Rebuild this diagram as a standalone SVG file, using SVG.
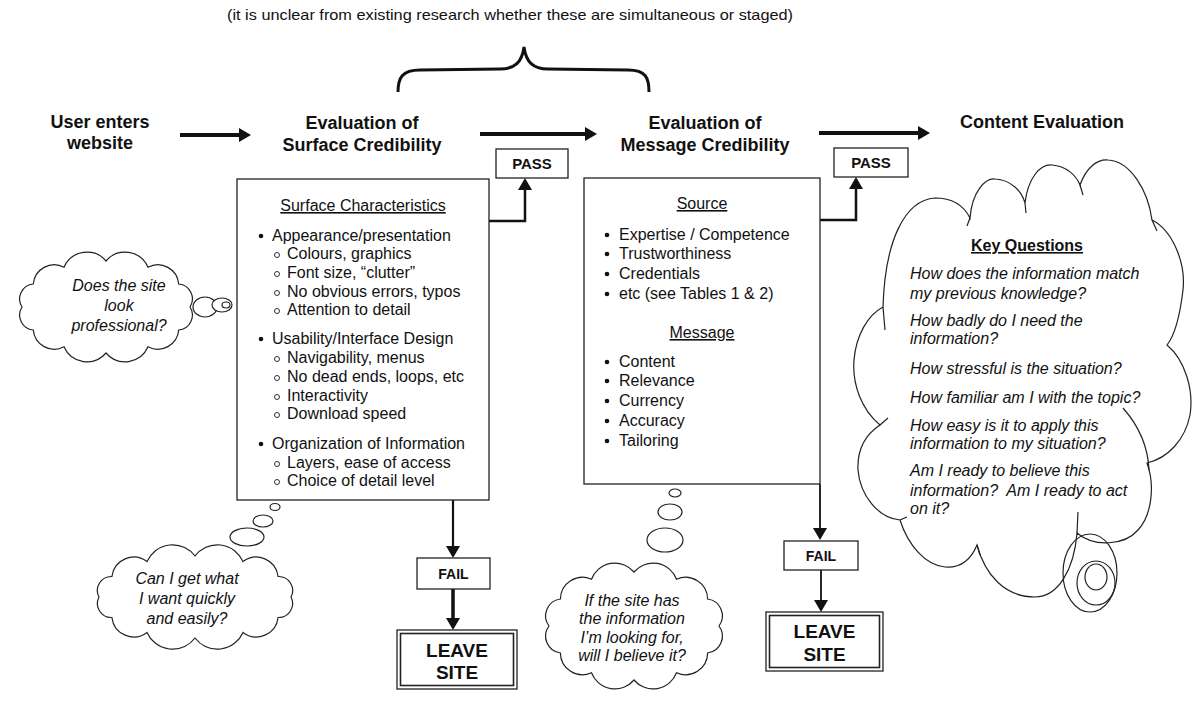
<svg xmlns="http://www.w3.org/2000/svg" width="1200" height="706" viewBox="0 0 1200 706">
<style>
text{font-family:"Liberation Sans",Arial,sans-serif;fill:#111}
.h{font-size:18px;font-weight:bold;text-anchor:middle}
.b{font-size:16px}
.c{text-anchor:middle}
.u{text-decoration:underline}
.i{font-size:16px;font-style:italic}
.lbl{font-size:15px;font-weight:bold;text-anchor:middle}
.big{font-size:19px;font-weight:bold;text-anchor:middle}
.box{fill:#fff;stroke:#222;stroke-width:1.3}
.cloud{fill:#fff;stroke:#222;stroke-width:1.2}
.hook{fill:none;stroke:#222;stroke-width:1.2}
.sub{fill:none;stroke:#333;stroke-width:1}
.dot{fill:#111}
.conn{fill:none;stroke:#111}
</style>
<defs>
<marker id="ah" viewBox="0 0 12 14" refX="4" refY="7" markerWidth="12" markerHeight="14" orient="auto" markerUnits="userSpaceOnUse">
<path d="M0,0 L12,7 L0,14 Z" fill="#111"/>
</marker>
</defs>
<rect width="1200" height="706" fill="#fff"/>

<g id="note">
<text x="510" y="20" style="font-size:15px" text-anchor="middle" textLength="566" lengthAdjust="spacingAndGlyphs">(it is unclear from existing research whether these are simultaneous or staged)</text>
<path class="conn" stroke-width="3" d="M398,92 C398,78 402,70 420,70 L500,69 C515,69 522,62 524,47 C526,62 533,69 548,69 L628,70 C646,70 649,78 649,92"/>
</g>

<g id="node-user">
<text class="h" x="100" y="128">User enters</text>
<text class="h" x="100" y="149">website</text>
</g>
<g id="node-surface-heading">
<text class="h" x="362" y="129">Evaluation of</text>
<text class="h" x="362" y="151">Surface Credibility</text>
</g>
<g id="node-message-heading">
<text class="h" x="705" y="129">Evaluation of</text>
<text class="h" x="705" y="151">Message Credibility</text>
</g>
<g id="node-content-heading">
<text class="h" x="1042" y="128">Content Evaluation</text>
</g>

<g id="connectors">
<line class="conn" stroke-width="4" x1="180" y1="135" x2="243" y2="135" marker-end="url(#ah)"/>
<line class="conn" stroke-width="4" x1="480" y1="134" x2="589" y2="134" marker-end="url(#ah)"/>
<line class="conn" stroke-width="4" x1="819" y1="133" x2="922" y2="133" marker-end="url(#ah)"/>
<polyline class="conn" stroke-width="2.5" points="489,221 525,221 525,186" marker-end="url(#ah)"/>
<polyline class="conn" stroke-width="2.5" points="820,220 856,220 856,185" marker-end="url(#ah)"/>
<line class="conn" stroke-width="2.2" x1="453" y1="500" x2="453" y2="550" marker-end="url(#ah)"/>
<line class="conn" stroke-width="3.5" x1="453" y1="589" x2="453" y2="622" marker-end="url(#ah)"/>
<line class="conn" stroke-width="1.8" x1="820" y1="484" x2="820" y2="532" marker-end="url(#ah)"/>
<line class="conn" stroke-width="1.8" x1="821" y1="570" x2="821" y2="604" marker-end="url(#ah)"/>
</g>

<g id="node-pass1">
<rect class="box" x="496" y="149" width="72" height="29"/>
<text class="lbl" x="532" y="169">PASS</text>
</g>
<g id="node-pass2">
<rect class="box" x="834" y="148" width="74" height="29"/>
<text class="lbl" x="871" y="168">PASS</text>
</g>

<g id="node-surface-box">
<rect class="box" x="237" y="179" width="252" height="321"/>
<text class="b c u" x="363" y="211">Surface Characteristics</text>
<circle class="dot" cx="261" cy="236" r="2.3"/>
<text class="b" x="272" y="241">Appearance/presentation</text>
<circle class="sub" cx="277" cy="255" r="2.5"/>
<text class="b" x="287" y="259">Colours, graphics</text>
<circle class="sub" cx="277" cy="274" r="2.5"/>
<text class="b" x="287" y="278">Font size, “clutter”</text>
<circle class="sub" cx="277" cy="293" r="2.5"/>
<text class="b" x="287" y="297">No obvious errors, typos</text>
<circle class="sub" cx="277" cy="311" r="2.5"/>
<text class="b" x="287" y="315">Attention to detail</text>
<circle class="dot" cx="261" cy="339" r="2.3"/>
<text class="b" x="272" y="344">Usability/Interface Design</text>
<circle class="sub" cx="277" cy="359" r="2.5"/>
<text class="b" x="287" y="363">Navigability, menus</text>
<circle class="sub" cx="277" cy="378" r="2.5"/>
<text class="b" x="287" y="382">No dead ends, loops, etc</text>
<circle class="sub" cx="277" cy="397" r="2.5"/>
<text class="b" x="287" y="401">Interactivity</text>
<circle class="sub" cx="277" cy="415" r="2.5"/>
<text class="b" x="287" y="419">Download speed</text>
<circle class="dot" cx="261" cy="444" r="2.3"/>
<text class="b" x="272" y="449">Organization of Information</text>
<circle class="sub" cx="277" cy="464" r="2.5"/>
<text class="b" x="287" y="468">Layers, ease of access</text>
<circle class="sub" cx="277" cy="482" r="2.5"/>
<text class="b" x="287" y="486">Choice of detail level</text>
</g>

<g id="node-message-box">
<rect class="box" x="584" y="178" width="236" height="306"/>
<text class="b c u" x="702" y="209">Source</text>
<circle class="dot" cx="607" cy="235" r="2.3"/>
<text class="b" x="619" y="240">Expertise / Competence</text>
<circle class="dot" cx="607" cy="254" r="2.3"/>
<text class="b" x="619" y="259">Trustworthiness</text>
<circle class="dot" cx="607" cy="274" r="2.3"/>
<text class="b" x="619" y="279">Credentials</text>
<circle class="dot" cx="607" cy="294" r="2.3"/>
<text class="b" x="619" y="299">etc (see Tables 1 &amp; 2)</text>
<text class="b c u" x="702" y="338">Message</text>
<circle class="dot" cx="607" cy="362" r="2.3"/>
<text class="b" x="619" y="367">Content</text>
<circle class="dot" cx="607" cy="381" r="2.3"/>
<text class="b" x="619" y="386">Relevance</text>
<circle class="dot" cx="607" cy="401" r="2.3"/>
<text class="b" x="619" y="406">Currency</text>
<circle class="dot" cx="607" cy="421" r="2.3"/>
<text class="b" x="619" y="426">Accuracy</text>
<circle class="dot" cx="607" cy="441" r="2.3"/>
<text class="b" x="619" y="446">Tailoring</text>
</g>

<g id="node-fail1">
<rect class="box" x="417" y="558" width="73" height="31"/>
<text class="lbl" x="453.5" y="579" style="font-size:14px">FAIL</text>
</g>
<g id="node-fail2">
<rect class="box" x="784" y="541" width="74" height="29"/>
<text class="lbl" x="821" y="561" style="font-size:14px">FAIL</text>
</g>

<g id="node-leave1">
<rect class="box" x="397" y="630" width="120" height="59" stroke-width="1.6"/>
<rect x="400.5" y="633.5" width="113" height="52" fill="none" stroke="#222" stroke-width="1.6"/>
<text class="big" x="457" y="657">LEAVE</text>
<text class="big" x="457" y="679">SITE</text>
</g>
<g id="node-leave2">
<rect class="box" x="766" y="612" width="117" height="59" stroke-width="1.6"/>
<rect x="769.5" y="615.5" width="110" height="52" fill="none" stroke="#222" stroke-width="1.6"/>
<text class="big" x="824.5" y="638">LEAVE</text>
<text class="big" x="824.5" y="661">SITE</text>
</g>

<g id="cloud-professional">
<path class="cloud" d="M22,307 A15,15 0 0 1 33.3,284 A21,21 0 0 1 64,267.2 A25,25 0 0 1 106,261 A25,25 0 0 1 148,267.2 A21,21 0 0 1 178.7,284 A15,15 0 0 1 190,307 A15,15 0 0 1 178.7,330 A21,21 0 0 1 148,346.8 A25,25 0 0 1 106,353 A25,25 0 0 1 64,346.8 A21,21 0 0 1 33.3,330 A15,15 0 0 1 22,307 Z"/>
<ellipse class="cloud" cx="205" cy="307" rx="12" ry="10"/>
<ellipse class="cloud" cx="222" cy="305" rx="10" ry="7"/>
<ellipse class="cloud" cx="226" cy="305" rx="4" ry="3"/>
<text class="i c" x="119" y="291">Does the site</text>
<text class="i c" x="119" y="311">look</text>
<text class="i c" x="119" y="331">professional?</text>
</g>

<g id="cloud-quickly">
<ellipse class="cloud" cx="275" cy="507" rx="5" ry="3.5"/>
<ellipse class="cloud" cx="263" cy="521" rx="10" ry="6"/>
<ellipse class="cloud" cx="247" cy="537" rx="17" ry="9"/>
<path class="cloud" d="M99,597 A14,14 0 0 1 111.9,576.5 A22,22 0 0 1 147,561.5 A28,28 0 0 1 195,556 A28,28 0 0 1 243,561.5 A22,22 0 0 1 278.1,576.5 A14,14 0 0 1 291,597 A14,14 0 0 1 278.1,617.5 A22,22 0 0 1 243,632.5 A28,28 0 0 1 195,638 A28,28 0 0 1 147,632.5 A22,22 0 0 1 111.9,617.5 A14,14 0 0 1 99,597 Z"/>
<text class="i c" x="187" y="584">Can I get what</text>
<text class="i c" x="187" y="604">I want quickly</text>
<text class="i c" x="187" y="624">and easily?</text>
</g>

<g id="cloud-believe">
<ellipse class="cloud" cx="675" cy="493" rx="6" ry="4"/>
<ellipse class="cloud" cx="670" cy="512" rx="12" ry="8"/>
<ellipse class="cloud" cx="665" cy="540" rx="18" ry="12"/>
<path class="cloud" d="M549,626 A17,17 0 0 1 560.4,599 A22,22 0 0 1 591.5,579.2 A25,25 0 0 1 634,572 A25,25 0 0 1 676.5,579.2 A22,22 0 0 1 707.6,599 A17,17 0 0 1 719,626 A17,17 0 0 1 707.6,653 A22,22 0 0 1 676.5,672.8 A25,25 0 0 1 634,680 A25,25 0 0 1 591.5,672.8 A22,22 0 0 1 560.4,653 A17,17 0 0 1 549,626 Z"/>
<text class="i c" x="632" y="606">If the site has</text>
<text class="i c" x="632" y="624">the information</text>
<text class="i c" x="632" y="643">I’m looking for,</text>
<text class="i c" x="632" y="661">will I believe it?</text>
</g>

<g id="cloud-key-questions">
<path class="cloud" d="M883,307 C885,240 905,200 935,198 C955,198 965,208 970,218 C972,192 985,178 995,179 C1012,180 1022,192 1025,203 C1028,178 1040,164 1052,165 C1066,166 1076,175 1080,185 C1086,168 1097,159 1108,160 C1130,161 1148,190 1152,220 C1172,230 1186,262 1183,290 C1180,315 1175,335 1167,345 C1185,360 1194,390 1190,415 C1185,440 1168,458 1147,463 C1155,485 1152,515 1138,530 C1125,545 1095,548 1077,533 C1074,570 1058,597 1035,597 C1005,597 985,575 977,545 C970,562 958,568 945,567 C925,565 908,545 900,520 C878,518 860,495 858,470 C857,450 865,435 880,425 C862,410 852,385 854,360 C856,335 868,315 883,307 Z"/>
<path class="hook" d="M1123,408 C1138,425 1148,445 1149,470 M1077,533 L1078,512 M1025,203 L1026,213 M970,218 L967,226 M1080,185 L1083,195 M1152,220 L1157,231 M883,307 L885,330 M880,425 L888,418 M977,545 L980,555 M900,520 L907,517"/>
<ellipse cx="1090" cy="573" rx="27" ry="39" fill="none" stroke="#222" stroke-width="1.2"/>
<ellipse cx="1096" cy="583" rx="19" ry="22" fill="none" stroke="#222" stroke-width="1.2"/>
<ellipse cx="1096" cy="577" rx="11" ry="13" fill="none" stroke="#222" stroke-width="1.2"/>
<text class="b c u" x="1027" y="251" style="font-weight:bold">Key Questions</text>
<text class="i" x="910" y="279">How does the information match</text>
<text class="i" x="910" y="299">my previous knowledge?</text>
<text class="i" x="910" y="326">How badly do I need the</text>
<text class="i" x="910" y="344">information?</text>
<text class="i" x="910" y="374">How stressful is the situation?</text>
<text class="i" x="910" y="403">How familiar am I with the topic?</text>
<text class="i" x="910" y="431">How easy is it to apply this</text>
<text class="i" x="910" y="449">information to my situation?</text>
<text class="i" x="910" y="476">Am I ready to believe this</text>
<text class="i" x="910" y="496">information?&#160; Am I ready to act</text>
<text class="i" x="910" y="514">on it?</text>
</g>
</svg>
